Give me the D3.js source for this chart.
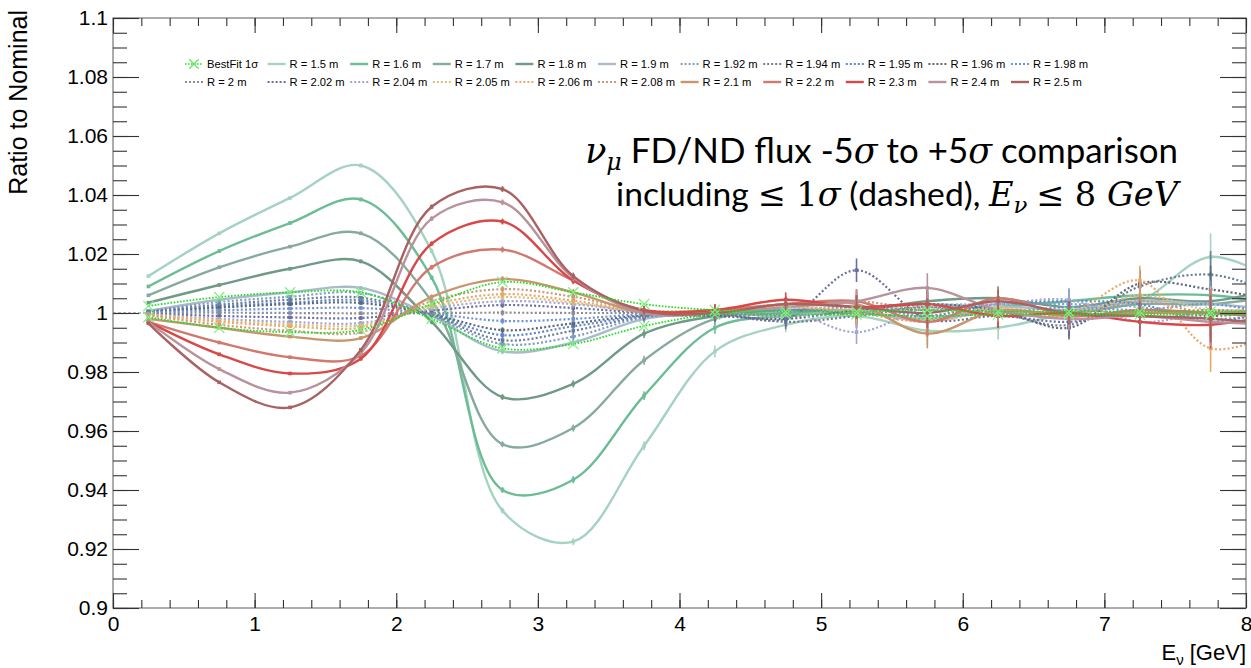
<!DOCTYPE html>
<html>
<head>
<meta charset="utf-8">
<script src="https://cdn.jsdelivr.net/npm/d3@7"></script>
<style>
  body { margin: 0; background: #fff; }
  svg { display: block; }
</style>
</head>
<body>
<svg id="chart" width="1251" height="668"></svg>
<script>
// Bin centres in GeV (the last one sits just past the axis range and is clipped)
const energies = [0.25, 0.75, 1.25, 1.75, 2.25, 2.75, 3.25, 3.75, 4.25, 4.75, 5.25, 5.75, 6.25, 6.75, 7.25, 7.75, 8.25];
// Statistical uncertainty per bin
const binErrors = [0.0003, 0.0004, 0.0005, 0.0006, 0.0008, 0.001, 0.0012, 0.0015, 0.002, 0.0025, 0.004, 0.005, 0.004, 0.004, 0.005, 0.008, 0.008];

// Best-fit +/- 1 sigma band edges
const bestFitA = [1.0024, 1.0054, 1.007, 1.007, 0.998, 0.988, 0.9895, 0.9956, 0.9995, 0.9995, 0.9995, 0.999, 0.9995, 0.9995, 0.9995, 0.9995, 0.9995];
const bestFitB = [0.9986, 0.995, 0.9935, 0.9943, 1.003, 1.0105, 1.007, 1.003, 1.001, 1.0005, 1.0005, 1.001, 1.0005, 1.0005, 1.0005, 1.0005, 1.0005];

// FD/ND ratio for each horn radius
const r150 = [1.0125, 1.027, 1.039, 1.050, 1.021, 0.933, 0.9225, 0.955, 0.987, 0.996, 0.999, 0.994, 0.995, 1.000, 1.004, 1.019, 1.010];
const r160 = [1.009, 1.021, 1.0305, 1.0385, 1.012, 0.940, 0.9435, 0.972, 0.995, 0.999, 1.000, 0.998, 1.002, 1.004, 1.006, 1.006, 1.003];
const r170 = [1.006, 1.0155, 1.0225, 1.027, 1.004, 0.9555, 0.961, 0.984, 0.998, 1.000, 1.001, 1.003, 1.001, 1.000, 1.003, 1.003, 1.006];
const r180 = [1.0035, 1.0095, 1.015, 1.0175, 0.997, 0.9715, 0.976, 0.993, 0.999, 1.001, 1.001, 1.004, 1.005, 1.002, 1.005, 1.004, 1.009];
const r190 = [1.0007, 1.0045, 1.007, 1.0085, 0.999, 0.987, 0.990, 0.998, 1.000, 0.999, 1.001, 0.997, 1.002, 1.001, 1.004, 1.003, 1.001];
const r192 = [1.0006, 1.0037, 1.0055, 1.0068, 0.999, 0.9895, 0.992, 0.9985, 0.999, 1.000, 1.002, 1.001, 1.003, 1.003, 1.002, 0.998, 1.000];
const r194 = [1.0005, 1.0028, 1.0045, 1.0052, 0.9993, 0.9908, 0.994, 0.9988, 1.000, 0.997, 0.999, 1.002, 1.000, 0.996, 1.009, 1.013, 1.006];
const r195 = [1.0004, 1.0023, 1.0035, 1.0043, 0.9995, 0.9925, 0.9955, 0.999, 1.000, 1.001, 1.000, 0.999, 1.003, 1.004, 1.003, 0.997, 1.002];
const r196 = [1.0003, 1.0018, 1.003, 1.0034, 0.9996, 0.9942, 0.9965, 0.9992, 0.999, 0.998, 1.001, 1.003, 1.001, 0.995, 1.010, 1.008, 1.004];
const r198 = [1.0002, 1.0009, 1.0015, 1.0017, 0.9998, 0.9973, 0.998, 0.9996, 1.000, 1.001, 1.002, 0.999, 1.000, 1.002, 1.001, 1.003, 0.999];
const r200 = [1.0000, 1.0001, 1.0000, 0.9999, 1.0000, 1.0001, 1.0000, 1.0000, 1.000, 0.999, 1.000, 1.002, 0.999, 1.001, 1.000, 1.001, 1.000];
const r202 = [0.9998, 0.999, 0.9985, 0.9983, 1.0008, 1.0027, 1.0017, 1.0002, 1.000, 0.998, 1.0145, 0.998, 0.999, 0.997, 1.001, 0.999, 1.001];
const r204 = [0.9996, 0.998, 0.997, 0.9966, 1.0015, 1.004, 1.003, 1.0004, 1.000, 1.001, 0.9935, 1.002, 1.003, 1.0045, 0.997, 1.000, 0.998];
const r205 = [0.9995, 0.9975, 0.9962, 0.9958, 1.002, 1.0054, 1.0035, 1.0005, 1.001, 1.002, 1.001, 0.998, 1.002, 0.999, 1.006, 1.001, 1.002];
const r206 = [0.9994, 0.997, 0.9955, 0.995, 1.0028, 1.0064, 1.0042, 1.0006, 1.001, 1.002, 1.000, 0.997, 1.001, 1.000, 1.011, 0.988, 0.994];
const r208 = [0.9992, 0.996, 0.994, 0.9935, 1.004, 1.0081, 1.0055, 1.0008, 1.001, 1.003, 1.004, 1.001, 1.000, 0.999, 1.004, 1.000, 1.003];
const r210 = [0.998, 0.995, 0.992, 0.9915, 1.0055, 1.0115, 1.007, 1.000, 1.000, 1.003, 1.003, 0.993, 1.001, 0.999, 1.000, 1.000, 1.001];
const r220 = [0.997, 0.990, 0.985, 0.9855, 1.0155, 1.0215, 1.011, 1.000, 1.001, 1.003, 1.004, 0.997, 1.005, 0.999, 1.001, 1.000, 0.998];
const r230 = [0.997, 0.986, 0.9795, 0.9845, 1.0235, 1.031, 1.011, 1.001, 1.001, 1.0045, 1.002, 1.003, 0.999, 1.000, 0.997, 0.996, 1.000];
const r240 = [0.997, 0.981, 0.973, 0.9865, 1.032, 1.0375, 1.012, 1.000, 1.000, 1.002, 1.004, 1.0085, 1.001, 0.998, 0.999, 0.997, 0.996];
const r250 = [0.9965, 0.9765, 0.968, 0.9875, 1.036, 1.042, 1.0125, 1.0007, 1.000, 1.003, 1.002, 1.000, 1.004, 1.000, 0.999, 0.998, 0.996];

const radiusLabels = ["R = 1.5 m", "R = 1.6 m", "R = 1.7 m", "R = 1.8 m", "R = 1.9 m", "R = 1.92 m", "R = 1.94 m", "R = 1.95 m", "R = 1.96 m", "R = 1.98 m",
  "R = 2 m", "R = 2.02 m", "R = 2.04 m", "R = 2.05 m", "R = 2.06 m", "R = 2.08 m", "R = 2.1 m", "R = 2.2 m", "R = 2.3 m", "R = 2.4 m", "R = 2.5 m"];
const radiusValues = [r150, r160, r170, r180, r190, r192, r194, r195, r196, r198, r200, r202, r204, r205, r206, r208, r210, r220, r230, r240, r250];
const bestFitLabel = "BestFit 1σ";

const yTickValues = [0.9, 0.92, 0.94, 0.96, 0.98, 1, 1.02, 1.04, 1.06, 1.08, 1.1];
const xTickValues = [0, 1, 2, 3, 4, 5, 6, 7, 8];

// Line styles: colour and whether drawn dotted (within 1 sigma)
const palette = ["#a6d3bf", "#6cbd96", "#86ab9d", "#6f9a86", "#a9bbcb",
  "#7f9dc2", "#6d7d92", "#5f86cc", "#596878", "#6c92d6",
  "#8c8c94", "#6a6ea2", "#a4a4d4", "#d8c07c", "#eaa868", "#c99a7c",
  "#c9956d", "#d0796e", "#d94848", "#b9939b", "#a86262"];
const dotted = [false, false, false, false, false, true, true, true, true, true,
  true, true, true, true, true, true, false, false, false, false, false];
const bestFitColor = "#22dd22";

const svg = d3.select("#chart");
const frameL = 113, frameR = 1246, frameT = 18, frameB = 608;
const x = d3.scaleLinear().domain([0, 8]).range([frameL, frameR]);
const y = d3.scaleLinear().domain([0.9, 1.1]).range([frameB, frameT]);

const font = "'Liberation Sans', Arial, sans-serif";

svg.append("defs").append("clipPath").attr("id", "frame")
  .append("rect").attr("x", frameL).attr("y", frameT).attr("width", frameR - frameL).attr("height", frameB - frameT);

// Reference line at unity before the first bin
svg.append("line")
  .attr("x1", x(0)).attr("x2", x(energies[0]))
  .attr("y1", y(1)).attr("y2", y(1))
  .attr("stroke", "#777").attr("stroke-width", 1.2).attr("stroke-dasharray", "3,2");

const line = d3.line()
  .x((d, i) => x(energies[i]))
  .y(d => y(d))
  .curve(d3.curveCatmullRom.alpha(0.5));

const plot = svg.append("g").attr("clip-path", "url(#frame)");

function drawSeries(values, color, isDotted, width) {
  const g = plot.append("g");
  g.append("path")
    .datum(values)
    .attr("d", line)
    .attr("fill", "none")
    .attr("stroke", color)
    .attr("stroke-width", width)
    .attr("stroke-dasharray", isDotted ? "2,2.2" : null);
  // error bars
  g.selectAll("line.err").data(values).join("line")
    .attr("x1", (d, i) => x(energies[i])).attr("x2", (d, i) => x(energies[i]))
    .attr("y1", (d, i) => y(d - binErrors[i])).attr("y2", (d, i) => y(d + binErrors[i]))
    .attr("stroke", color).attr("stroke-width", 1.6);
  // point markers
  g.selectAll("rect.pt").data(values).join("rect")
    .attr("x", (d, i) => x(energies[i]) - 1.8).attr("y", d => y(d) - 1.8)
    .attr("width", 3.6).attr("height", 3.6)
    .attr("fill", color);
  return g;
}

radiusValues.forEach((vals, k) => drawSeries(vals, palette[k], dotted[k], dotted[k] ? 2.2 : 2.4));

// Best fit band edges, drawn on top with cross markers
[bestFitA, bestFitB].forEach(vals => {
  const g = plot.append("g");
  g.append("path").datum(vals).attr("d", line)
    .attr("fill", "none").attr("stroke", bestFitColor)
    .attr("stroke-width", 1.8).attr("stroke-dasharray", "1.6,1.6");
  const cross = d3.symbol().type(d3.symbolX).size(70);
  g.selectAll("path.mk").data(vals).join("path")
    .attr("d", cross)
    .attr("transform", (d, i) => `translate(${x(energies[i])},${y(d)})`)
    .attr("fill", "none").attr("stroke", "#7ef07e").attr("stroke-width", 1.2);
});

// Frame
svg.append("rect").attr("x", frameL).attr("y", frameT).attr("width", frameR - frameL).attr("height", frameB - frameT)
  .attr("fill", "none").attr("stroke", "#8a8a8a").attr("stroke-width", 1.4);

// Axes: major ticks with labels, minor ticks without
const minorX = d3.range(0, 8.0001, 0.2).map(v => +v.toFixed(2));
const minorY = d3.range(0.9, 1.1001, 0.005).map(v => +v.toFixed(3));

function styleAxis(g) {
  g.select(".domain").remove();
  g.selectAll(".tick line").attr("stroke", "#333").attr("stroke-width", 1.1);
  g.selectAll(".tick text").attr("font-family", font).attr("font-size", 21).attr("fill", "#000");
}

svg.append("g").attr("transform", `translate(0,${frameB})`)
  .call(d3.axisBottom(x).tickValues(minorX).tickSizeInner(-8).tickSizeOuter(0).tickFormat(""))
  .call(styleAxis);
svg.append("g").attr("transform", `translate(0,${frameB})`)
  .call(d3.axisBottom(x).tickValues(xTickValues).tickSizeInner(-15).tickSizeOuter(0).tickPadding(6).tickFormat(d3.format("d")))
  .call(styleAxis)
  .call(g => g.selectAll(".tick text").attr("y", 8));
svg.append("g").attr("transform", `translate(0,${frameT})`)
  .call(d3.axisTop(x).tickValues(minorX).tickSizeInner(-8).tickSizeOuter(0).tickFormat(""))
  .call(styleAxis);
svg.append("g").attr("transform", `translate(0,${frameT})`)
  .call(d3.axisTop(x).tickValues(xTickValues).tickSizeInner(-15).tickSizeOuter(0).tickFormat(""))
  .call(styleAxis);

svg.append("g").attr("transform", `translate(${frameL},0)`)
  .call(d3.axisLeft(y).tickValues(minorY).tickSizeInner(-14).tickSizeOuter(0).tickFormat(""))
  .call(styleAxis);
svg.append("g").attr("transform", `translate(${frameL},0)`)
  .call(d3.axisLeft(y).tickValues(yTickValues).tickSizeInner(-26).tickSizeOuter(0).tickPadding(5).tickFormat(d => String(+d.toFixed(2))))
  .call(styleAxis)
  .call(g => g.selectAll(".tick text").attr("x", -5));
svg.append("g").attr("transform", `translate(${frameR},0)`)
  .call(d3.axisRight(y).tickValues(minorY).tickSizeInner(-14).tickSizeOuter(0).tickFormat(""))
  .call(styleAxis);
svg.append("g").attr("transform", `translate(${frameR},0)`)
  .call(d3.axisRight(y).tickValues(yTickValues).tickSizeInner(-26).tickSizeOuter(0).tickFormat(""))
  .call(styleAxis);

// Axis titles
svg.append("text")
  .attr("transform", `translate(27,${frameT - 8}) rotate(-90)`)
  .attr("text-anchor", "end")
  .attr("font-family", font).attr("font-size", 25)
  .text("Ratio to Nominal");

const xt = svg.append("text")
  .attr("x", frameR).attr("y", 660)
  .attr("text-anchor", "end")
  .attr("font-family", font).attr("font-size", 22);
xt.append("tspan").text("E");
xt.append("tspan").attr("font-size", 15).attr("dy", 5).text("ν");
xt.append("tspan").attr("dy", -5).text(" [GeV]");

// Legend
const legendItems = [{ label: bestFitLabel, color: bestFitColor, dotted: true, best: true }]
  .concat(radiusLabels.map((l, k) => ({ label: l, color: palette[k], dotted: dotted[k], best: false })));
const colW = 82.6, legX = 185, legY = [64, 82];
const leg = svg.append("g");
legendItems.forEach((it, k) => {
  const col = k % 11, row = Math.floor(k / 11);
  const lx = legX + col * colW, ly = legY[row];
  const g = leg.append("g");
  g.append("line").attr("x1", lx).attr("x2", lx + 18).attr("y1", ly).attr("y2", ly)
    .attr("stroke", it.color).attr("stroke-width", it.best ? 1.6 : (it.dotted ? 2 : 2.4))
    .attr("stroke-dasharray", it.dotted ? (it.best ? "1.5,1.5" : "2,2") : null);
  if (it.best) {
    g.append("path").attr("d", d3.symbol().type(d3.symbolX).size(60))
      .attr("transform", `translate(${lx + 9},${ly})`)
      .attr("fill", "none").attr("stroke", "#5ee65e").attr("stroke-width", 1.2);
  }
  g.append("text").attr("x", lx + 22).attr("y", ly + 4)
    .attr("font-family", font).attr("font-size", 11.2).text(it.label);
});

// Annotation (two right-aligned lines, sized to their target widths)
const sans = "Lato, 'Open Sans', sans-serif";
const serif = "'DejaVu Serif', 'Liberation Serif', serif";
const ann = svg.append("g").attr("font-family", sans).attr("fill", "#000");

function addLine(yBase, targetLeft, parts) {
  const t = ann.append("text").attr("x", 1178).attr("y", yBase).attr("text-anchor", "end").attr("font-size", 30);
  parts.forEach(p => {
    const s = t.append("tspan").text(p.t);
    if (p.serif) s.attr("font-family", serif);
    if (p.it) s.attr("font-style", "italic");
    if (p.sub) s.attr("font-size", "0.68em").attr("dy", "0.3em");
    if (p.up) s.attr("dy", "-0.2em");
  });
  const w = t.node().getBBox().width;
  t.attr("font-size", 30 * (1178 - targetLeft) / w);
}

addLine(163, 585, [
  { t: "ν", serif: true, it: true },
  { t: "μ", serif: true, it: true, sub: true },
  { t: " FD/ND flux -5", up: true },
  { t: "σ", serif: true, it: true },
  { t: " to +5" },
  { t: "σ", serif: true, it: true },
  { t: " comparison" }
]);
addLine(206, 612, [
  { t: "including " },
  { t: "≤", serif: true },
  { t: " 1", serif: true },
  { t: "σ", serif: true, it: true },
  { t: " (dashed), " },
  { t: "E", serif: true, it: true },
  { t: "ν", serif: true, it: true, sub: true },
  { t: " ", up: true },
  { t: "≤ 8 ", serif: true },
  { t: "GeV", serif: true, it: true }
]);
</script>
</body>
</html>
